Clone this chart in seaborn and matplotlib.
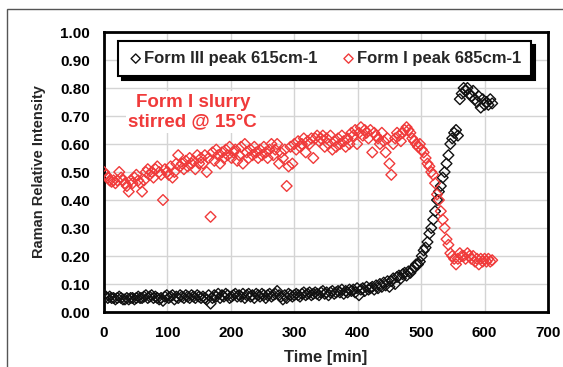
import matplotlib
matplotlib.use("Agg")
import matplotlib.pyplot as plt
import seaborn as sns
import pandas as pd
from matplotlib.patches import Rectangle

# ---------------- data ----------------
time_min = [
    0, 3, 6, 9, 12, 15, 18, 21, 24, 27, 30, 33, 36, 39, 42, 45, 48, 51, 54, 57,
    60, 63, 66, 69, 72, 75, 78, 81, 84, 87, 90, 93, 96, 99, 102, 105, 108, 111, 114, 117,
    120, 123, 126, 129, 132, 135, 138, 141, 144, 147, 150, 153, 156, 159, 162, 165, 168, 171, 174, 177,
    180, 183, 186, 189, 192, 195, 198, 201, 204, 207, 210, 213, 216, 219, 222, 225, 228, 231, 234, 237,
    240, 243, 246, 249, 252, 255, 258, 261, 264, 267, 270, 273, 276, 279, 282, 285, 288, 291, 294, 297,
    300, 303, 306, 309, 312, 315, 318, 321, 324, 327, 330, 333, 336, 339, 342, 345, 348, 351, 354, 357,
    360, 363, 366, 369, 372, 375, 378, 381, 384, 387, 390, 393, 396, 399, 402, 405, 408, 411, 414, 417,
    420, 423, 426, 429, 432, 435, 438, 441, 444, 447, 450, 453, 456, 459, 462, 465, 468, 471, 474, 477,
    480, 483, 486, 489, 492, 495, 498, 501, 504, 507, 510, 513, 516, 519, 522, 525, 528, 531, 534, 537,
    540, 543, 546, 549, 552, 555, 558, 561, 564, 567, 570, 573, 576, 579, 582, 585, 588, 591, 594, 597,
    600, 603, 606, 609, 612,
]

form3_615 = [
    0.060, 0.055, 0.050, 0.055, 0.050, 0.050, 0.045, 0.050, 0.055, 0.050, 0.045,
    0.045, 0.050, 0.045, 0.050, 0.050, 0.045, 0.050, 0.055, 0.050, 0.050,
    0.055, 0.060, 0.050, 0.055, 0.060, 0.050, 0.055, 0.050, 0.045, 0.050,
    0.040, 0.055, 0.060, 0.050, 0.055, 0.060, 0.045, 0.055, 0.050, 0.060,
    0.055, 0.050, 0.060, 0.055, 0.050, 0.060, 0.055, 0.050, 0.060, 0.055,
    0.050, 0.055, 0.050, 0.045, 0.060, 0.030, 0.050, 0.060, 0.055, 0.065,
    0.050, 0.060, 0.055, 0.065, 0.060, 0.050, 0.055, 0.060, 0.065, 0.055,
    0.060, 0.055, 0.065, 0.050, 0.060, 0.065, 0.055, 0.060, 0.050, 0.065,
    0.060, 0.055, 0.065, 0.060, 0.050, 0.060, 0.065, 0.055, 0.060, 0.065,
    0.075, 0.060, 0.055, 0.045, 0.060, 0.050, 0.065, 0.060, 0.055, 0.060,
    0.065, 0.060, 0.055, 0.065, 0.070, 0.060, 0.065, 0.070, 0.060, 0.065,
    0.070, 0.065, 0.060, 0.070, 0.075, 0.065, 0.070, 0.060, 0.070, 0.075,
    0.065, 0.070, 0.075, 0.070, 0.080, 0.065, 0.075, 0.070, 0.080, 0.075,
    0.080, 0.070, 0.085, 0.060, 0.080, 0.085, 0.075, 0.090, 0.080, 0.085,
    0.090, 0.080, 0.095, 0.085, 0.100, 0.090, 0.105, 0.095, 0.110, 0.090,
    0.110, 0.120, 0.100, 0.125, 0.130, 0.120, 0.135, 0.140, 0.130, 0.145,
    0.140, 0.150, 0.160, 0.170, 0.170, 0.180, 0.200, 0.220, 0.230, 0.250,
    0.280, 0.300, 0.330, 0.360, 0.400, 0.430, 0.450, 0.480, 0.500, 0.530,
    0.560, 0.600, 0.620, 0.640, 0.650, 0.630,
    0.760, 0.780, 0.800, 0.790, 0.800, 0.780, 0.770, 0.790, 0.760, 0.750,
    0.770, 0.730, 0.760, 0.740, 0.750, 0.740, 0.760, 0.745,
]

form1_685 = [
    0.50, 0.49, 0.48, 0.47, 0.465, 0.47, 0.46, 0.47, 0.50, 0.48, 0.47,
    0.46, 0.45, 0.43, 0.47, 0.46, 0.48, 0.49, 0.47, 0.46, 0.43,
    0.47, 0.50, 0.51, 0.49, 0.50, 0.48, 0.51, 0.52, 0.50, 0.49,
    0.40, 0.51, 0.50, 0.49, 0.52, 0.48, 0.50, 0.53, 0.56, 0.52,
    0.53, 0.51, 0.54, 0.52, 0.55, 0.53, 0.54, 0.51, 0.56, 0.53,
    0.55, 0.53, 0.56, 0.50, 0.55, 0.34, 0.57, 0.54, 0.58, 0.56,
    0.53, 0.57, 0.55, 0.58, 0.56, 0.59, 0.55, 0.57, 0.58, 0.54,
    0.56, 0.59, 0.53, 0.60, 0.57, 0.55, 0.58, 0.56, 0.59, 0.57,
    0.55, 0.58, 0.56, 0.59, 0.57, 0.55, 0.58, 0.60, 0.56, 0.58,
    0.60, 0.53, 0.57, 0.55, 0.58, 0.45, 0.52, 0.59, 0.53, 0.60,
    0.58, 0.61, 0.59, 0.60, 0.62, 0.57, 0.61, 0.60, 0.62, 0.55,
    0.62, 0.63, 0.61, 0.62, 0.63, 0.59, 0.62, 0.60, 0.63, 0.58,
    0.61, 0.59, 0.62, 0.60, 0.63, 0.61, 0.59, 0.62, 0.60, 0.64,
    0.63, 0.65, 0.60, 0.64, 0.66, 0.63, 0.65, 0.64, 0.62, 0.65,
    0.57, 0.64, 0.63, 0.62, 0.60, 0.64, 0.61, 0.57, 0.62, 0.53,
    0.49, 0.60, 0.62, 0.64, 0.63, 0.61, 0.64, 0.65, 0.66, 0.65,
    0.64, 0.62, 0.61, 0.60, 0.59, 0.60, 0.58, 0.57, 0.55, 0.53,
    0.52, 0.50, 0.49, 0.46, 0.42, 0.40, 0.36, 0.33, 0.30, 0.26,
    0.24, 0.21, 0.20, 0.19, 0.17, 0.19,
    0.21, 0.20, 0.20, 0.19, 0.21, 0.20, 0.19, 0.20, 0.18, 0.19,
    0.17, 0.19, 0.18, 0.19, 0.18, 0.19, 0.18, 0.185,
]

series_labels = ["Form III peak 615cm-1", "Form I peak 685cm-1"]
x_ticks = [0, 100, 200, 300, 400, 500, 600, 700]
y_ticks = [0.0, 0.1, 0.2, 0.3, 0.4, 0.5, 0.6, 0.7, 0.8, 0.9, 1.0]
annotation = "Form I slurry\nstirred @ 15°C"

# ---------------- plotting ----------------
sns.set_theme(style="white")
plt.rcParams["font.family"] = ["Liberation Sans", "DejaVu Sans"]
plt.rcParams["font.weight"] = "bold"

black = "#111111"
red = "#f03a3a"

df3 = pd.DataFrame({"t": time_min, "v": form3_615})
df1 = pd.DataFrame({"t": time_min, "v": form1_685})

fig = plt.figure(figsize=(5.63, 3.67), dpi=100)
ax = fig.add_axes([104 / 563, 1 - 312 / 367, 444 / 563, 280 / 367])

sns.scatterplot(data=df3, x="t", y="v", ax=ax, marker="D", s=30,
                facecolors="none", edgecolor=black, linewidth=1.0,
                label=series_labels[0], zorder=3)
sns.scatterplot(data=df1, x="t", y="v", ax=ax, marker="D", s=30,
                facecolors="none", edgecolor=red, linewidth=1.0,
                label=series_labels[1], zorder=3)

ax.set_xlim(0, 700)
ax.set_ylim(0, 1.0)
ax.set_xticks(x_ticks)
ax.set_yticks(y_ticks)
ax.set_xticklabels([str(v) for v in x_ticks], fontsize=11, fontweight="bold")
ax.set_yticklabels([f"{v:.2f}" for v in y_ticks], fontsize=11, fontweight="bold")
ax.grid(True, color="#d4d4d4", linewidth=1.0, zorder=0)
ax.set_axisbelow(True)
ax.tick_params(axis="both", direction="in", length=4, width=1, color="black",
               pad=10, labelcolor="black")
for sp in ax.spines.values():
    sp.set_visible(True)
    sp.set_color("black")
    sp.set_linewidth(2.0)

ax.set_xlabel("Time [min]", fontsize=12, fontweight="bold", labelpad=7)
ax.set_ylabel("Raman Relative Intensity", fontsize=10.5, fontweight="bold", labelpad=10)

ax.text(140, 0.713, annotation, color=red, fontsize=13.5, fontweight="bold",
        ha="center", va="center", linespacing=1.2, zorder=4,
        bbox=dict(facecolor="white", edgecolor="none", pad=2))

leg = ax.legend(loc="upper left", bbox_to_anchor=(0.032, 0.968, 0.93, 0.0),
                mode="expand", ncol=2, frameon=True, fancybox=False,
                shadow={"ox": 3, "oy": -3, "color": "black", "alpha": 1.0},
                fontsize=12, handletextpad=0.05, handlelength=0.9,
                borderpad=0.6, columnspacing=1.0, borderaxespad=0)
leg.get_frame().set_edgecolor("black")
leg.get_frame().set_linewidth(1.5)
for txt in leg.get_texts():
    txt.set_fontweight("bold")
for h in leg.legend_handles:
    h.set_sizes([22])

# outer figure frame
fig.patches.append(Rectangle((6.5 / 563, -0.1), 1.2, 1 - 9 / 367 + 0.1,
                             transform=fig.transFigure, fill=False,
                             edgecolor="#555555", linewidth=1.0))

fig.savefig("out.png", dpi=100)
